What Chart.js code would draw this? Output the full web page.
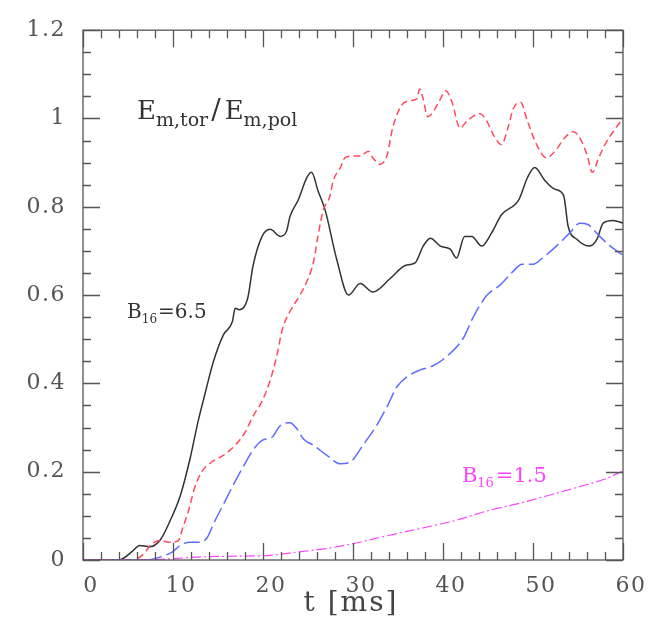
<!DOCTYPE html>
<html>
<head>
<meta charset="utf-8">
<script src="https://cdn.jsdelivr.net/npm/chart.js@4/dist/chart.umd.min.js"></script>
<style>
	body { margin: 0; background: #fff; }
	#chart { display: block; }
</style>
</head>
<body>
<canvas id="chart" width="651" height="635"></canvas>
<script>
// t [ms] and Em,tor/Em,pol for each run
const tBlack = [0, 2, 4, 4.5, 5.5, 6.3, 7.4, 8.6, 9.7, 10.8, 11.9, 12.8, 13.6, 14.5, 15.6, 16.6, 16.9, 17.4, 18.3, 18.9, 19.9, 20.8, 21.9, 22.6, 23, 23.9, 24.9, 25.4, 26.1, 26.9, 28.2, 29.5, 30.8, 32.2, 34.1, 35.8, 36.9, 37.8, 38.6, 39.7, 40.8, 41.5, 42.4, 43.2, 44.3, 45.4, 46.5, 48.4, 49.4, 50.2, 51.3, 52.4, 53.4, 53.9, 54.9, 56.3, 57.1, 57.8, 58.9, 60];
const vBlack = [0, 0, 0, 0.004, 0.02, 0.033, 0.03, 0.046, 0.09, 0.145, 0.23, 0.315, 0.38, 0.45, 0.51, 0.54, 0.57, 0.567, 0.593, 0.667, 0.733, 0.749, 0.733, 0.744, 0.778, 0.815, 0.867, 0.878, 0.837, 0.793, 0.68, 0.6, 0.626, 0.607, 0.637, 0.667, 0.673, 0.711, 0.729, 0.711, 0.704, 0.684, 0.733, 0.733, 0.711, 0.741, 0.782, 0.815, 0.867, 0.889, 0.86, 0.84, 0.826, 0.756, 0.726, 0.711, 0.726, 0.763, 0.769, 0.763];

const tRed = [0, 5.5, 6.6, 7.7, 8.6, 9.7, 10.6, 11.1, 11.7, 12.4, 13.2, 14.3, 15.6, 16.9, 18, 18.9, 19.9, 20.8, 21.5, 22.2, 23, 24.1, 25, 25.6, 26.1, 26.7, 27.4, 27.8, 28.6, 29.1, 30, 30.8, 31.7, 32.2, 33, 33.8, 34.4, 35.4, 36.3, 37.1, 37.4, 37.8, 38.3, 38.9, 39.7, 40.3, 41, 41.9, 42.6, 44.1, 44.9, 45.6, 46.5, 47.3, 47.8, 48.6, 49.4, 50.4, 51.5, 52.6, 53.5, 54.5, 55.4, 56, 56.6, 57.3, 58, 58.9, 60];
const vRed = [0, 0, 0.011, 0.037, 0.044, 0.04, 0.044, 0.074, 0.11, 0.163, 0.2, 0.222, 0.237, 0.26, 0.289, 0.326, 0.36, 0.407, 0.46, 0.526, 0.563, 0.6, 0.637, 0.674, 0.733, 0.793, 0.822, 0.859, 0.889, 0.911, 0.915, 0.915, 0.926, 0.911, 0.896, 0.918, 0.978, 1.03, 1.04, 1.045, 1.067, 1.044, 1.004, 1.015, 1.044, 1.063, 1.037, 0.978, 0.993, 1.011, 0.993, 0.963, 0.941, 0.985, 1.022, 1.037, 0.993, 0.941, 0.911, 0.93, 0.956, 0.97, 0.948, 0.918, 0.878, 0.911, 0.941, 0.97, 1.0];

const tBlue = [0, 7, 8.6, 9.9, 10.8, 11.9, 13, 13.8, 14.5, 15.6, 16.7, 17.8, 18.9, 19.9, 21, 21.9, 23, 23.8, 24.5, 25.6, 27.1, 28.6, 29.7, 31.1, 32.6, 33.8, 34.9, 36, 37.4, 38.9, 40.3, 42.3, 43.3, 44.9, 46.3, 47.7, 48.8, 50, 51.1, 52.6, 54.1, 55.2, 56.1, 57.4, 58.6, 60];
const vBlue = [0, 0, 0.007, 0.018, 0.033, 0.04, 0.04, 0.051, 0.082, 0.126, 0.17, 0.211, 0.249, 0.271, 0.278, 0.304, 0.311, 0.296, 0.274, 0.26, 0.237, 0.218, 0.222, 0.26, 0.304, 0.348, 0.393, 0.415, 0.43, 0.44, 0.459, 0.504, 0.548, 0.6, 0.622, 0.652, 0.67, 0.67, 0.685, 0.711, 0.741, 0.763, 0.76, 0.733, 0.711, 0.69];

const tMagenta = [0, 9, 13, 18.2, 20.4, 23.8, 26.3, 27.4, 30, 33.8, 37.4, 41.1, 44.9, 48.6, 52.2, 56, 58.2, 60];
const vMagenta = [0, 0.002, 0.007, 0.009, 0.01, 0.018, 0.024, 0.027, 0.037, 0.055, 0.071, 0.088, 0.111, 0.129, 0.149, 0.171, 0.185, 0.202];

const X_MIN = 0, X_MAX = 60, X_MAJOR = 10, X_MINOR = 2;
const Y_MIN = 0, Y_MAX = 1.2, Y_MAJOR = 0.2, Y_MINOR = 0.05;

const SERIF = "'DejaVu Serif', serif";

const toPoints = (ts, vs) => ts.map((t, i) => ({ x: t, y: vs[i] }));

const line = (ts, vs, color, dash, width) => ({
	data: toPoints(ts, vs),
	borderColor: color,
	borderWidth: width,
	borderDash: dash,
	pointRadius: 0,
	fill: false,
	cubicInterpolationMode: "monotone",
});

// box with inward ticks on all four sides, plus the labels inside the plot
const framePlugin = {
	id: "frame",
	beforeDraw(chart) {
		// the reference font is wide, spread the tick labels a bit
		chart.ctx.letterSpacing = "1.5px";
	},
	afterDatasetsDraw(chart) {
		const { ctx, chartArea: a, scales } = chart;
		const xs = scales.x, ys = scales.y;
		ctx.save();
		ctx.strokeStyle = "#555";
		ctx.lineWidth = 1.3;
		ctx.strokeRect(a.left, a.top, a.right - a.left, a.bottom - a.top);
		ctx.beginPath();
		for (let t = X_MIN; t <= X_MAX + 1e-6; t += X_MINOR) {
			const px = Math.round(xs.getPixelForValue(t)) + 0.5;
			const len = Math.abs(t % X_MAJOR) < 1e-6 ? 17 : 8;
			ctx.moveTo(px, a.bottom); ctx.lineTo(px, a.bottom - len);
			ctx.moveTo(px, a.top); ctx.lineTo(px, a.top + len);
		}
		for (let i = 0; i <= Math.round((Y_MAX - Y_MIN) / Y_MINOR); i++) {
			const v = Y_MIN + i * Y_MINOR;
			const py = Math.round(ys.getPixelForValue(v)) + 0.5;
			const len = i % 4 === 0 ? 17 : 8;
			ctx.moveTo(a.left, py); ctx.lineTo(a.left + len, py);
			ctx.moveTo(a.right, py); ctx.lineTo(a.right - len, py);
		}
		ctx.stroke();
		ctx.restore();
	},
	afterDraw(chart) {
		const { ctx, chartArea: a, scales } = chart;
		const xs = scales.x, ys = scales.y;
		// parts: [text, font size, baseline shift, extra gap after]
		const put = (t, v, parts, color) => {
			let px = xs.getPixelForValue(t);
			const py = ys.getPixelForValue(v);
			ctx.fillStyle = color;
			ctx.textBaseline = "alphabetic";
			ctx.textAlign = "left";
			for (const [txt, size, dy, gap] of parts) {
				ctx.font = size + "px " + SERIF;
				ctx.fillText(txt, px, py + dy);
				px += ctx.measureText(txt).width + (gap || 0);
			}
		};
		ctx.save();
		ctx.letterSpacing = "0px";
		put(6, 1.0, [["E", 26, 0], ["m,tor", 19, 7, 3], ["/", 28, 0, 4], ["E", 26, 0], ["m,pol", 19, 7]], "#333");
		put(4.9, 0.549, [["B", 20, 0], ["16", 12, 5, 1], ["=6.5", 20, 0]], "#333");
		put(42.1, 0.176, [["B", 21, 0], ["16", 13, 5, 2], ["=1.5", 21, 0]], "#ff44ff");

		ctx.font = "28px " + SERIF;
		ctx.fillStyle = "#444";
		ctx.letterSpacing = "2px";
		ctx.textAlign = "center";
		ctx.textBaseline = "middle";
		ctx.fillText("t [ms]", (a.left + a.right) / 2 - 2, 604);
		ctx.restore();
	},
};

const fmt = (v) => String(+Number(v).toFixed(2));

new Chart(document.getElementById("chart"), {
	type: "line",
	data: {
		datasets: [
			line(tMagenta, vMagenta, "#ff44ff", [10, 3, 2, 3], 1.2),
			line(tBlue, vBlue, "#5e6cff", [16, 5], 1.5),
			line(tRed, vRed, "#ff4a5c", [7, 4], 1.5),
			line(tBlack, vBlack, "#333", [], 1.5),
		],
	},
	options: {
		responsive: false,
		animation: false,
		layout: { padding: { top: 20, right: 28, left: 0, bottom: 0 } },
		plugins: { legend: { display: false }, tooltip: { enabled: false } },
		scales: {
			x: {
				type: "linear",
				min: X_MIN,
				max: X_MAX,
				grid: { display: false, drawTicks: false },
				border: { display: false },
				ticks: {
					stepSize: X_MAJOR,
					padding: 13,
					labelOffset: 8,
					color: "#555",
					font: { family: SERIF, size: 22 },
					callback: fmt,
				},
				afterFit: (s) => { s.height = 75; },
			},
			y: {
				min: Y_MIN,
				max: Y_MAX,
				grid: { display: false, drawTicks: false },
				border: { display: false },
				ticks: {
					stepSize: Y_MAJOR,
					padding: 17,
					color: "#555",
					font: { family: SERIF, size: 22 },
					callback: fmt,
				},
				afterFit: (s) => { s.width = 83; },
			},
		},
	},
	plugins: [framePlugin],
});
</script>
</body>
</html>
